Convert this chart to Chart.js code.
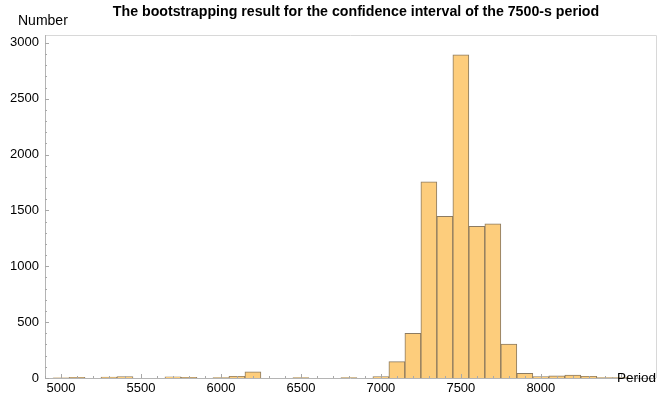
<!DOCTYPE html>
<html>
<head>
<meta charset="utf-8">
<script src="https://cdn.jsdelivr.net/npm/chart.js@4"></script>
<style>
  html, body { margin: 0; padding: 0; background: #ffffff; }
  #wrap { width: 670px; height: 394px; }
</style>
</head>
<body>
<div id="wrap"><canvas id="c" width="670" height="394"></canvas></div>
<script>
// Bin centres (Period, s), bin width 100
const binCenters = [5000, 5100, 5200, 5300, 5400, 5500, 5600, 5700, 5800, 5900,
                    6000, 6100, 6200, 6300, 6400, 6500, 6600, 6700, 6800, 6900,
                    7000, 7100, 7200, 7300, 7400, 7500, 7600, 7700, 7800, 7900,
                    8000, 8100, 8200, 8300, 8400, 8500];
// Counts (Number)
const counts = [2, 5, 0, 8, 12, 0, 0, 10, 5, 0,
                3, 15, 55, 0, 0, 3, 0, 0, 4, 0,
                12, 146, 399, 1755, 1446, 2893, 1357, 1381, 304, 42,
                12, 20, 27, 15, 4, 3];
const xTickValues = [5000, 5500, 6000, 6500, 7000, 7500, 8000];
const yTickValues = [0, 500, 1000, 1500, 2000, 2500, 3000];

const titleText = 'The bootstrapping result for the confidence interval of the 7500-s period';
const yAxisLabel = 'Number';
const xAxisLabel = 'Period';

const FONT = 'Liberation Sans, Arial, Helvetica, sans-serif';

const decorPlugin = {
  id: 'decor',
  afterDatasetsDraw(chart) {
    const ctx = chart.ctx;
    const a = chart.chartArea;
    const xs = chart.scales.x, ys = chart.scales.y;
    ctx.save();
    // light frame top/right
    ctx.strokeStyle = '#d8d8d8';
    ctx.lineWidth = 1;
    ctx.beginPath();
    ctx.moveTo(a.left, a.top + 0.5);
    ctx.lineTo(a.right + 0.5, a.top + 0.5);
    ctx.lineTo(a.right + 0.5, a.bottom);
    ctx.stroke();
    // axis lines
    ctx.strokeStyle = '#b4b4b4';
    ctx.beginPath();
    ctx.moveTo(a.left + 0.5, a.top);
    ctx.lineTo(a.left + 0.5, a.bottom);
    ctx.moveTo(a.left, a.bottom + 0.5);
    ctx.lineTo(a.right, a.bottom + 0.5);
    ctx.stroke();
    // x ticks (inward, pointing up)
    ctx.strokeStyle = '#a8a8a8';
    ctx.beginPath();
    for (let v = 4900; v <= xs.max; v += 100) {
      const px = Math.round(xs.getPixelForValue(v)) + 0.5;
      const len = (v % 500 === 0) ? 4 : 2;
      ctx.moveTo(px, a.bottom);
      ctx.lineTo(px, a.bottom - len);
    }
    // y ticks (inward, pointing right)
    for (let v = 0; v <= ys.max; v += 100) {
      const py = Math.round(ys.getPixelForValue(v)) + 0.5;
      const len = (v % 500 === 0) ? 4 : 2;
      ctx.moveTo(a.left, py);
      ctx.lineTo(a.left + len, py);
    }
    ctx.stroke();
    // texts
    ctx.fillStyle = '#000';
    ctx.font = 'bold 14.2px ' + FONT;
    ctx.textAlign = 'center';
    ctx.textBaseline = 'middle';
    ctx.fillText(titleText, 356, 12);
    ctx.font = '14px ' + FONT;
    ctx.textAlign = 'left';
    ctx.fillText(yAxisLabel, 18, 21);
    ctx.font = '13.5px ' + FONT;
    ctx.textAlign = 'right';
    ctx.fillText(xAxisLabel, a.right, a.bottom);
    ctx.restore();
  }
};

new Chart(document.getElementById('c'), {
  type: 'bar',
  data: {
    datasets: [{
      data: binCenters.map((x, i) => ({ x: x, y: counts[i] })),
      backgroundColor: '#fdcd7c',
      borderColor: 'rgba(120, 100, 70, 0.85)',
      borderWidth: 1,
      barPercentage: 1,
      categoryPercentage: 1,
      grouped: false
    }]
  },
  options: {
    responsive: false,
    animation: false,
    devicePixelRatio: 1,
    layout: { padding: { top: 35, right: 14, left: 0, bottom: 0 } },
    plugins: {
      legend: { display: false },
      title: { display: false },
      tooltip: { enabled: false }
    },
    scales: {
      x: {
        type: 'linear',
        min: 4900,
        max: 8720,
        offset: false,
        grid: { display: false, drawTicks: false },
        border: { display: false },
        ticks: {
          color: '#000',
          font: { family: FONT, size: 13 },
          padding: 3,
          maxRotation: 0,
          autoSkip: false,
          callback: (v) => String(v)
        },
        afterBuildTicks: (s) => { s.ticks = xTickValues.map(v => ({ value: v })); },
        afterFit: (s) => { s.height = 16; }
      },
      y: {
        min: 0,
        max: 3070,
        grid: { display: false, drawTicks: false },
        border: { display: false },
        ticks: {
          color: '#000',
          font: { family: FONT, size: 13 },
          padding: 6,
          autoSkip: false,
          callback: (v) => String(v)
        },
        afterBuildTicks: (s) => { s.ticks = yTickValues.map(v => ({ value: v })); },
        afterFit: (s) => { s.width = 45; }
      }
    }
  },
  plugins: [decorPlugin]
});
</script>
</body>
</html>
